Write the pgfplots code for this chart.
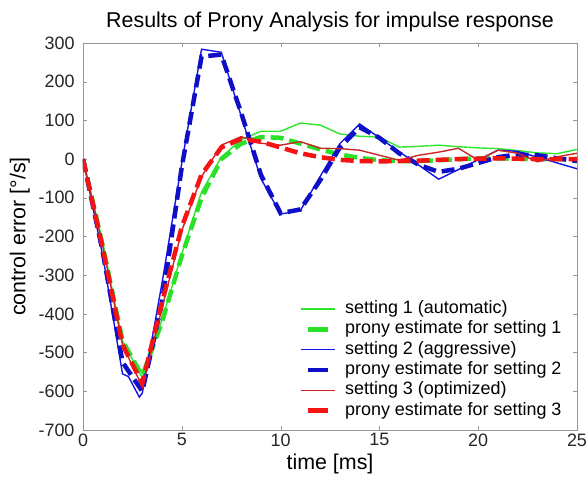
\documentclass[border=0pt]{standalone}
\usepackage{fontspec}
\setmainfont{Liberation Sans}
\usepackage{pgfplots}
\pgfplotsset{compat=1.18}
\definecolor{gA}{RGB}{45,230,45}
\definecolor{gB}{RGB}{40,225,40}
\definecolor{bA}{RGB}{20,20,230}
\definecolor{bB}{RGB}{15,15,200}
\definecolor{rA}{RGB}{200,40,40}
\definecolor{rB}{RGB}{245,20,20}
\definecolor{axgray}{RGB}{150,150,150}
\pgfplotsset{
  pronyleg/.style={legend image code/.code={\draw[##1,solid] (7bp,0bp) -- (27bp,0bp);}}
}
\begin{document}
\begin{tikzpicture}
\begin{axis}[
  name=ax,
  scale only axis,
  width=494bp, height=387bp,
  xmin=0, xmax=25, ymin=-700, ymax=300,
  xtick={0,5,10,15,20,25},
  ytick={-700,-600,-500,-400,-300,-200,-100,0,100,200,300},
  tick align=inside,
  major tick length=4bp,
  axis line style={axgray},
  tick style={axgray},
  every tick label/.append style={font=\fontsize{18}{20}\selectfont, text=black!85},
  yticklabel style={xshift=-5bp},
  /pgf/number format/assume math mode=true,
  xlabel={time [ms]},
  ylabel={control error [°/s]},
  xlabel style={font=\fontsize{21.5}{24}\selectfont, yshift=-1bp},
  ylabel style={font=\fontsize{21.5}{24}\selectfont, yshift=2bp},
  title={Results of Prony Analysis for impulse response},
  title style={font=\fontsize{21.5}{24}\selectfont, yshift=2bp},
  legend style={at={(rel axis cs:0.972,0.025)}, anchor=south east, draw=none, fill=white,
    font=\fontsize{18}{20}\selectfont, row sep=3.3bp, column sep=9bp, inner sep=1bp,
    nodes={inner sep=0.5bp, text height=12.5bp, text depth=3.5bp}},
  legend cell align=left,
  legend image code/.code={\draw[#1] (0bp,0bp) -- (34bp,0bp);},
]
\addplot[gA, line width=1.4bp] coordinates {
(0,0)(1,-215)(2,-470)(3,-565)(4,-415)(5,-245)(6,-85)(7,5)(8,50)(9,72)(10,72)(11,93)(12,88)(13,65)(14,59)(15,57)(16,31)(17,33)(18,36)(19,32)(20,29)(21,27)(22,22)(23,16)(24,14)(25,25)};
\addlegendentry{setting 1 (automatic)}
\addplot[gB, line width=4.5bp, dash pattern=on 13bp off 6bp, pronyleg] coordinates {
(0,0)(1,-225)(2,-470)(3,-560)(4,-420)(5,-250)(6,-100)(7,0)(8,40)(9,57)(10,55)(11,40)(12,25)(13,12)(14,3)(15,-3)(16,-5)(17,-5)(18,-3)(19,0)(20,2)(21,2)(22,1)(23,0)(24,0)(25,0)};
\addlegendentry{prony estimate for setting 1}
\addplot[bA, line width=1.4bp] coordinates {
(0,0)(1,-250)(2,-555)(2.3,-562)(2.85,-615)(3,-605)(4,-320)(5,-10)(6,284)(7,276)(8,112)(9,-50)(10,-142)(11,-133)(12,-45)(13,40)(14,91)(15,55)(16,19)(17,-16)(18,-52)(19,-27)(20,-2)(21,23)(22,20)(23,5)(24,-10)(25,-25)};
\addlegendentry{setting 2 (aggressive)}
\addplot[bB, line width=4.5bp, dash pattern=on 13bp off 6bp, pronyleg] coordinates {
(0,0)(1,-240)(2,-525)(3,-600)(4,-370)(5,-20)(6,265)(7,270)(8,120)(9,-40)(10,-140)(11,-130)(12,-55)(13,30)(14,82)(15,55)(16,15)(17,-15)(18,-33)(19,-25)(20,-10)(21,5)(22,12)(23,10)(24,2)(25,-5)};
\addlegendentry{prony estimate for setting 2}
\addplot[rA, line width=1.4bp] coordinates {
(0,0)(1,-225)(2,-480)(3,-588)(4,-385)(5,-185)(6,-45)(7,36)(8,58)(9,41)(10,36)(11,45)(12,28)(13,27)(14,23)(15,10)(16,-3)(17,10)(18,18)(19,28)(20,-3)(21,23)(22,15)(23,-7)(24,6)(25,15)};
\addlegendentry{setting 3 (optimized)}
\addplot[rB, line width=4.5bp, dash pattern=on 13bp off 6bp, pronyleg] coordinates {
(0,0)(1,-230)(2,-480)(3,-580)(4,-370)(5,-175)(6,-40)(7,30)(8,52)(9,45)(10,30)(11,15)(12,5)(13,-2)(14,-5)(15,-6)(16,-5)(17,-4)(18,-2)(19,0)(20,1)(21,2)(22,1)(23,0)(24,0)(25,0)};
\addlegendentry{prony estimate for setting 3}
\end{axis}
\pgfresetboundingbox
\useasboundingbox ([xshift=-83bp,yshift=-52bp]ax.south west) rectangle ([xshift=9bp,yshift=43bp]ax.north east);
\end{tikzpicture}
\end{document}
